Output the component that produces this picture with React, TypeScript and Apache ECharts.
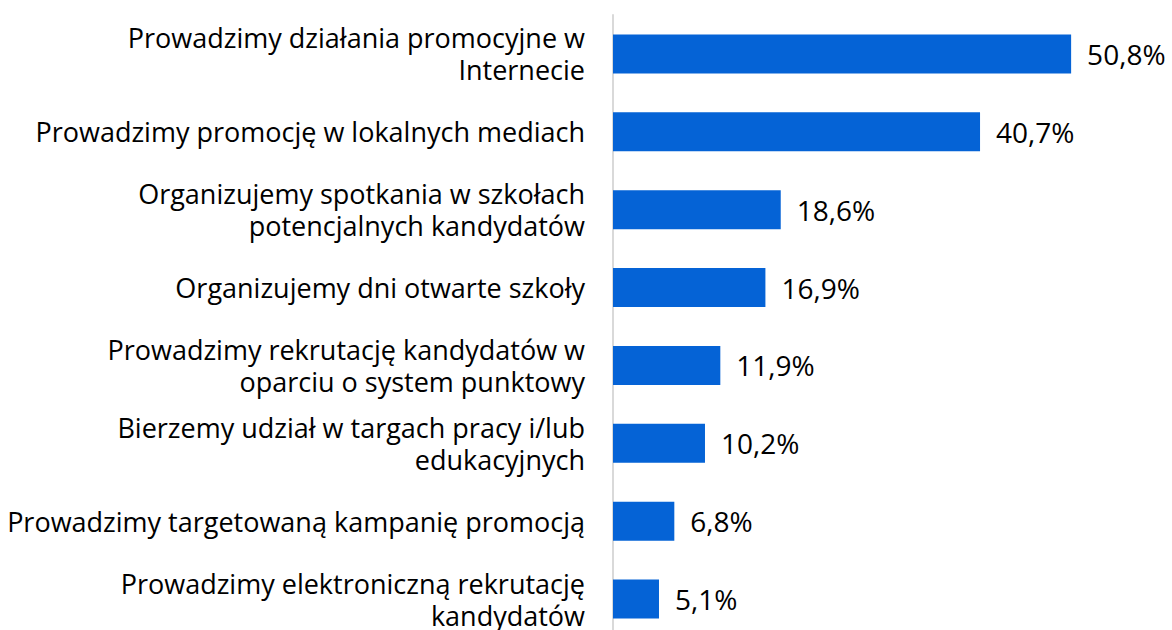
import React, { useEffect, useRef } from "react";
import * as echarts from "echarts";

const categories = [
  "Prowadzimy działania promocyjne w\nInternecie",
  "Prowadzimy promocję w lokalnych mediach",
  "Organizujemy spotkania w szkołach\npotencjalnych kandydatów",
  "Organizujemy dni otwarte szkoły",
  "Prowadzimy rekrutację kandydatów w\noparciu o system punktowy",
  "Bierzemy udział w targach pracy i/lub\nedukacyjnych",
  "Prowadzimy targetowaną kampanię promocją",
  "Prowadzimy elektroniczną rekrutację\nkandydatów",
];
const values = [50.8, 40.7, 18.6, 16.9, 11.9, 10.2, 6.8, 5.1];

const FONT = "'Open Sans', 'Noto Sans', sans-serif";

export default function App() {
  const ref = useRef<HTMLDivElement>(null);
  useEffect(() => {
    if (!ref.current) return;
    const chart = echarts.init(ref.current, undefined, { renderer: "svg" });
    chart.setOption({
      animation: false,
      backgroundColor: "#ffffff",
      grid: { left: 613, right: 63, top: 15, bottom: 12, containLabel: false },
      xAxis: {
        type: "value",
        min: 0,
        max: 55,
        show: false,
      },
      yAxis: {
        type: "category",
        data: categories,
        inverse: true,
        axisLine: { show: true, lineStyle: { color: "#d9d9d9", width: 2 } },
        axisTick: { show: false },
        axisLabel: {
          margin: 28,
          color: "#000000",
          fontSize: 27,
          fontFamily: FONT,
          lineHeight: 32,
          align: "right",
        },
      },
      series: [
        {
          type: "bar",
          data: values,
          barWidth: "50%",
          itemStyle: { color: "#0563d6" },
          label: {
            show: true,
            position: "right",
            distance: 16,
            color: "#000000",
            fontSize: 28,
            fontFamily: FONT,
            formatter: (p: any) => String(p.value.toFixed(1)).replace(".", ",") + "%",
          },
        },
      ],
    });
    return () => chart.dispose();
  }, []);
  return (
    <div
      ref={ref}
      style={{ position: "fixed", left: 0, top: 0, width: 1172, height: 650, background: "#fff" }}
    />
  );
}
